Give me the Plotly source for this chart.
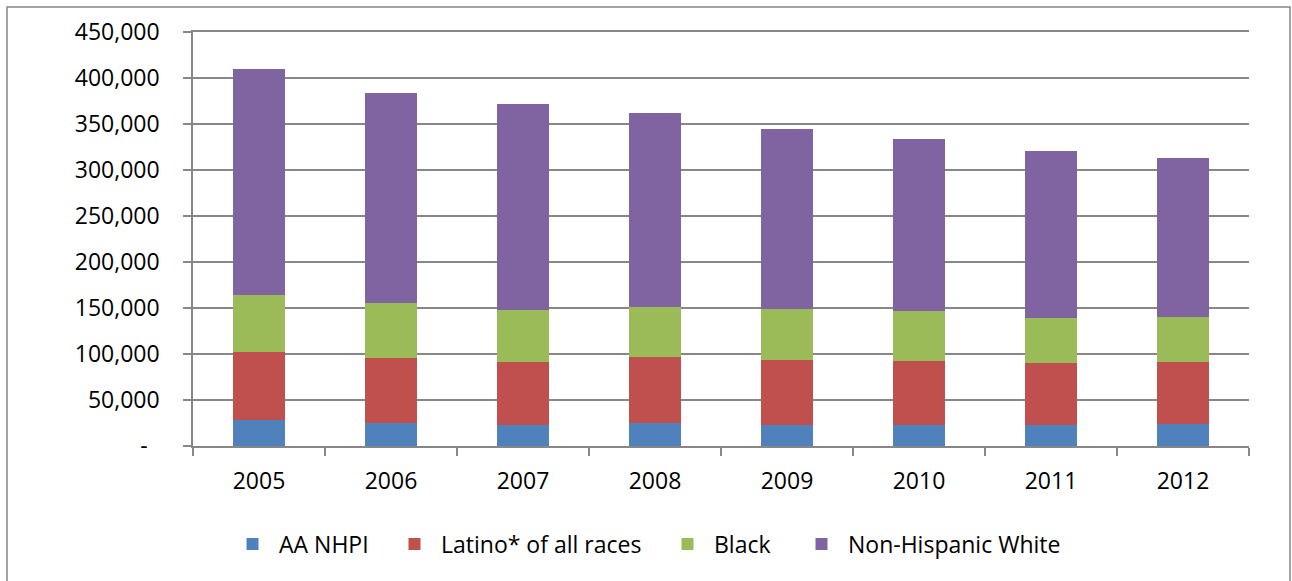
import plotly.graph_objects as go

# Annual counts by group (stacked)
years = ["2005", "2006", "2007", "2008", "2009", "2010", "2011", "2012"]
aa_nhpi = [28000, 25000, 22500, 24600, 22500, 22500, 22500, 24000]
latino = [74500, 71000, 69100, 71800, 71200, 69400, 67200, 66800]
black = [61600, 59100, 56200, 54300, 55600, 55200, 49000, 49000]
nh_white = [245400, 228500, 224200, 211500, 195700, 186200, 182300, 173600]

series_names = ["AA NHPI", "Latino* of all races", "Black", "Non-Hispanic White"]
series_colors = ["#4F81BD", "#C0504D", "#9BBB59", "#8064A2"]

y_tick_vals = [0, 50000, 100000, 150000, 200000, 250000, 300000, 350000, 400000, 450000]
y_tick_text = ["-\u00a0\u00a0", "50,000", "100,000", "150,000", "200,000", "250,000",
               "300,000", "350,000", "400,000", "450,000"]

FONT = "Open Sans"
GRAY = "#878787"
W, H = 1292, 581
M_L, M_R, M_T, M_B = 193, 43, 32, 135
PLOT_W = W - M_L - M_R
PLOT_H = H - M_T - M_B


def px_to_paper_x(px):
    return (px - M_L) / PLOT_W


def px_to_paper_y(py):
    return (H - M_B - py) / PLOT_H


# one legend box per series so the entries sit on a shared row with custom spacing
legend_ids = ["legend", "legend2", "legend3", "legend4"]
legend_symbol_centers = [252.5, 414.5, 687.5, 821.5]  # px from the left of the page
LEGEND_ROW_Y = 544  # px from the top of the page

fig = go.Figure()
for name, vals, color, lid in zip(series_names, [aa_nhpi, latino, black, nh_white],
                                  series_colors, legend_ids):
    fig.add_trace(go.Bar(
        x=years, y=vals, name=name, legend=lid,
        marker=dict(color=color, line=dict(width=0)),
    ))

legend_layouts = {}
for lid, cx in zip(legend_ids, legend_symbol_centers):
    legend_layouts[lid] = dict(
        x=px_to_paper_x(cx - 26.5), xanchor="left",
        y=px_to_paper_y(LEGEND_ROW_Y), yanchor="middle",
        itemwidth=43,
        borderwidth=0,
        bgcolor="rgba(0,0,0,0)",
        font=dict(family=FONT, size=23, color="#000000"),
    )

fig.update_layout(
    barmode="stack",
    bargap=0.605,
    width=W, height=H,
    margin=dict(l=M_L, r=M_R, t=M_T, b=M_B, autoexpand=False),
    paper_bgcolor="white",
    plot_bgcolor="white",
    font=dict(family=FONT, size=23, color="#000000"),
    showlegend=True,
    **legend_layouts,
    xaxis=dict(
        type="category",
        showline=True, mirror=True, linecolor=GRAY, linewidth=1.5,
        ticks="outside", tickson="boundaries", ticklen=8,
        tickcolor=GRAY, tickwidth=1.5,
        showgrid=False, zeroline=False,
        ticklabelstandoff=14,
        tickfont=dict(family=FONT, size=23, color="#000000"),
    ),
    yaxis=dict(
        range=[0, 450000],
        tickvals=y_tick_vals, ticktext=y_tick_text,
        showline=True, linecolor=GRAY, linewidth=1.5,
        ticks="outside", ticklen=8, tickcolor=GRAY, tickwidth=1.5,
        showgrid=True, gridcolor=GRAY, gridwidth=1.5,
        zeroline=False,
        ticklabelstandoff=19,
        tickfont=dict(family=FONT, size=23, color="#000000"),
    ),
    shapes=[dict(
        type="rect", xref="paper", yref="paper",
        x0=px_to_paper_x(7), x1=px_to_paper_x(1290),
        y0=px_to_paper_y(595), y1=px_to_paper_y(7),
        line=dict(color=GRAY, width=1.5),
        fillcolor="rgba(0,0,0,0)", layer="below",
    )],
)

fig.write_html("out.html")
